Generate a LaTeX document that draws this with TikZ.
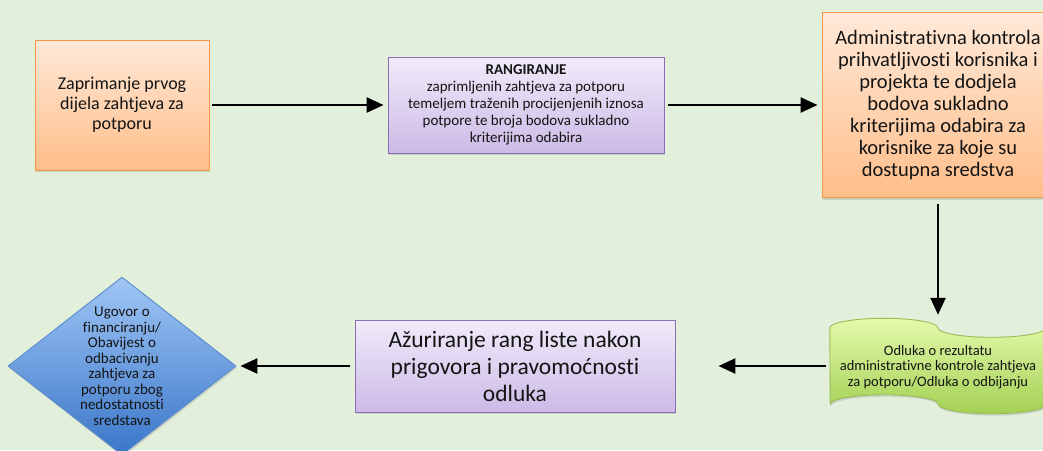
\documentclass[tikz,border=0pt]{standalone}
\usepackage{fontspec}
\setmainfont[Ligatures=NoCommon]{Carlito}
\usetikzlibrary{arrows.meta,shapes.geometric,shadows}
\definecolor{bgc}{RGB}{226,239,218}
\definecolor{otop}{RGB}{255,233,216}
\definecolor{obot}{RGB}{255,190,138}
\definecolor{oline}{RGB}{247,150,70}
\definecolor{ptop}{RGB}{240,235,250}
\definecolor{pbot}{RGB}{204,186,230}
\definecolor{pline}{RGB}{140,110,180}
\definecolor{gtop}{RGB}{228,250,172}
\definecolor{gbot}{RGB}{164,208,84}
\definecolor{gline}{RGB}{155,187,89}
\definecolor{dtop}{RGB}{160,198,246}
\definecolor{dbot}{RGB}{58,118,200}
\definecolor{dline}{RGB}{90,140,205}
\definecolor{txt}{RGB}{20,20,20}
\begin{document}
\begin{tikzpicture}[x=1pt,y=-1pt,
  arr/.style={line width=2.4pt,-{Triangle[length=17pt,width=15pt]}},
  shad/.style={drop shadow={shadow xshift=1pt,shadow yshift=-2pt,opacity=0.25}},
  obox/.style={shad,draw=oline,line width=0.9pt,top color=otop,bottom color=obot,
    align=center,text=txt,inner sep=0pt},
  pbox/.style={shad,draw=pline,line width=0.9pt,top color=ptop,bottom color=pbot,
    align=center,text=txt,inner sep=0pt},
  ghost/.style={inner sep=0pt},
  tapetext/.style={align=center,text=txt,font=\fontsize{14.5}{15.5}\selectfont},
  dtext/.style={align=center,text=txt,font=\fontsize{15}{15.5}\selectfont}
]
\useasboundingbox (0,0) rectangle (1043,450);
\fill[bgc] (0,0) rectangle (1043,450);

% top row
\node[obox,minimum width=174pt,minimum height=130pt,font=\fontsize{18}{20}\selectfont]
  (b1) at (122,105) {Zaprimanje prvog\\dijela zahtjeva za\\potporu};
\node[pbox,minimum width=276pt,minimum height=96pt,font=\fontsize{15}{17}\selectfont]
  (b2) at (526,105) {\textbf{RANGIRANJE}\\zaprimljenih zahtjeva za potporu\\temeljem traženih procijenjenih iznosa\\potpore te broja bodova sukladno\\kriterijima odabira};
\node[obox,minimum width=232pt,minimum height=185pt,font=\fontsize{20.5}{22}\selectfont]
  (b3) at (938,105) {Administrativna kontrola\\prihvatljivosti korisnika i\\projekta te dodjela\\bodova sukladno\\kriterijima odabira za\\korisnike za koje su\\dostupna sredstva};

% tape shape
\node[ghost,minimum width=216pt,minimum height=95pt] (tape) at (938,366) {};
\draw[shad,draw=gline,line width=0.9pt,top color=gtop,bottom color=gbot]
  ([yshift=-9.5pt]tape.north west)
  arc[start angle=180,end angle=0,x radius=54pt,y radius=9.5pt]
  arc[start angle=180,end angle=360,x radius=54pt,y radius=9.5pt]
  -- ([yshift=9.5pt]tape.south east)
  arc[start angle=0,end angle=-180,x radius=54pt,y radius=9.5pt]
  arc[start angle=0,end angle=180,x radius=54pt,y radius=9.5pt]
  -- cycle;
\node[tapetext] (tapetxt) at (938,367) {Odluka o rezultatu\\administrativne kontrole zahtjeva\\za potporu/Odluka o odbijanju};

% bottom row
\node[pbox,minimum width=320pt,minimum height=92pt,font=\fontsize{23.5}{27}\selectfont]
  (b5) at (515,366) {Ažuriranje rang liste nakon\\prigovora i pravomoćnosti\\odluka};
\node[diamond,shad,draw=dline,line width=0.9pt,top color=dtop,bottom color=dbot,
  minimum width=228pt,minimum height=178pt,inner sep=0pt,aspect=1.28] (dia) at (122,366) {};
\node[dtext] (diatxt) at (122,366) {Ugovor o\\financiranju/\\Obavijest o\\odbacivanju\\zahtjeva za\\potporu zbog\\nedostatnosti\\sredstava};

% connectors
\draw[arr,shorten <=3pt,shorten >=4pt] (b1) -- (b2);
\draw[arr,shorten <=4pt,shorten >=4pt] (b2) -- (b3);
\draw[arr,shorten <=6pt,shorten >=3.5pt] (b3.south) -- (tape.north);
\draw[arr,shorten <=4pt,shorten >=43pt] (tape) -- (b5);
\draw[arr,shorten <=5pt,shorten >=4pt] (b5) -- (dia);
\end{tikzpicture}
\end{document}
